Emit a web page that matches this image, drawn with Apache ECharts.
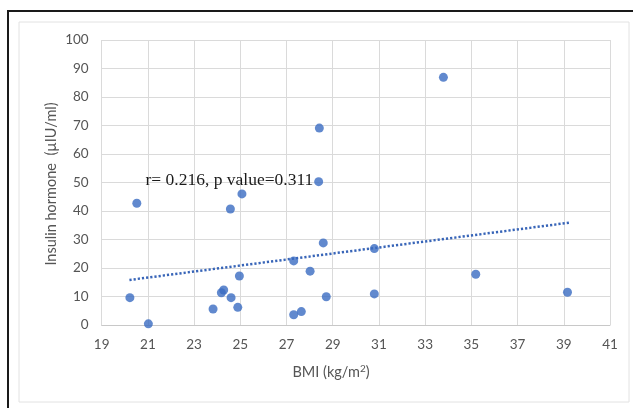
<!DOCTYPE html>
<html>
<head>
<meta charset="utf-8">
<script src="https://cdn.jsdelivr.net/npm/echarts@6/dist/echarts.min.js"></script>
<style>html,body{margin:0;padding:0;background:#fff}#c{width:633px;height:408px}</style>
</head>
<body>
<div id="c"></div>
<script>
// BMI (kg/m2) values
const bmi = [20.22, 20.52, 21.02, 23.82, 24.18, 24.28, 24.6, 24.57, 24.89, 24.96, 25.07,
             27.31, 27.64, 27.31, 28.02, 28.39, 28.42, 28.59, 28.72, 30.8, 30.8, 33.79, 35.19, 39.16];
// Insulin hormone (µIU/ml) values
const insulin = [9.6, 42.7, 0.4, 5.6, 11.3, 12.3, 9.6, 40.7, 6.2, 17.2, 46,
                 3.6, 4.7, 22.5, 18.9, 50.3, 69.1, 28.8, 9.9, 26.8, 10.9, 86.9, 17.8, 11.5];
// Linear trendline endpoints
const trendX = [20.2, 39.24];
const trendY = [15.8, 35.9];
const xTicks = [19, 21, 23, 25, 27, 29, 31, 33, 35, 37, 39, 41];
const yTicks = [0, 10, 20, 30, 40, 50, 60, 70, 80, 90, 100];
const annotation = 'r= 0.216, p value=0.311';

const chart = echarts.init(document.getElementById('c'), null, {renderer: 'canvas'});
const labelFont = 'Lato, "Noto Sans", sans-serif';
chart.setOption({
  animation: false,
  backgroundColor: '#ffffff',
  grid: {left: 101.7, right: 23, top: 40, bottom: 83, containLabel: false},
  xAxis: {
    type: 'value', min: xTicks[0], max: xTicks[xTicks.length - 1], interval: 2,
    axisLine: {show: true, lineStyle: {color: '#c8c8c8', width: 1}},
    axisTick: {show: false},
    splitLine: {show: true, lineStyle: {color: '#dadada', width: 1}},
    axisLabel: {color: '#555555', fontSize: 13.5, fontFamily: labelFont, margin: 13}
  },
  yAxis: {
    type: 'value', min: yTicks[0], max: yTicks[yTicks.length - 1], interval: 10,
    axisLine: {show: false},
    axisTick: {show: false},
    splitLine: {show: true, lineStyle: {color: '#dadada', width: 1}},
    axisLabel: {color: '#555555', fontSize: 13.5, fontFamily: labelFont, margin: 13}
  },
  series: [
    {
      type: 'line',
      data: trendX.map((x, i) => [x, trendY[i]]),
      symbol: 'none',
      lineStyle: {color: '#3865b8', width: 2.5, type: [2.2, 2], cap: 'butt'},
      z: 2
    },
    {
      type: 'scatter',
      data: bmi.map((x, i) => [x, insulin[i]]),
      symbol: 'circle',
      symbolSize: 9,
      itemStyle: {color: '#3a6bc2'},
      z: 3
    }
  ],
  graphic: [
    {type: 'rect', shape: {x: 8, y: 11, width: 640, height: 420},
     style: {fill: 'none', stroke: '#1a1a1a', lineWidth: 2}, z: 10},
    {type: 'rect', shape: {x: 19, y: 22, width: 610, height: 380},
     style: {fill: 'none', stroke: '#e2e2e2', lineWidth: 1}, z: 10},
    {type: 'text', x: 145.5, y: 180, z: 10,
     style: {text: annotation, font: '17.5px "Liberation Serif", serif', fill: '#1a1a1a',
             textAlign: 'left', textVerticalAlign: 'middle'}},
    {type: 'text', x: 331, y: 372, z: 10,
     style: {text: 'BMI (kg/m{sup|2})', textAlign: 'center', textVerticalAlign: 'middle',
             font: '14.5px ' + labelFont, fill: '#555555',
             rich: {sup: {fontSize: 10, fontFamily: labelFont, fill: '#555555', verticalAlign: 'top', padding: [0, 0, 6, 0]}}}},
    {type: 'text', x: 51, y: 184, rotation: Math.PI / 2, z: 10,
     style: {text: 'Insulin hormone  (µIU/ml)', textAlign: 'center', textVerticalAlign: 'middle',
             font: '14.5px ' + labelFont, fill: '#555555'}}
  ]
});
</script>
</body>
</html>
